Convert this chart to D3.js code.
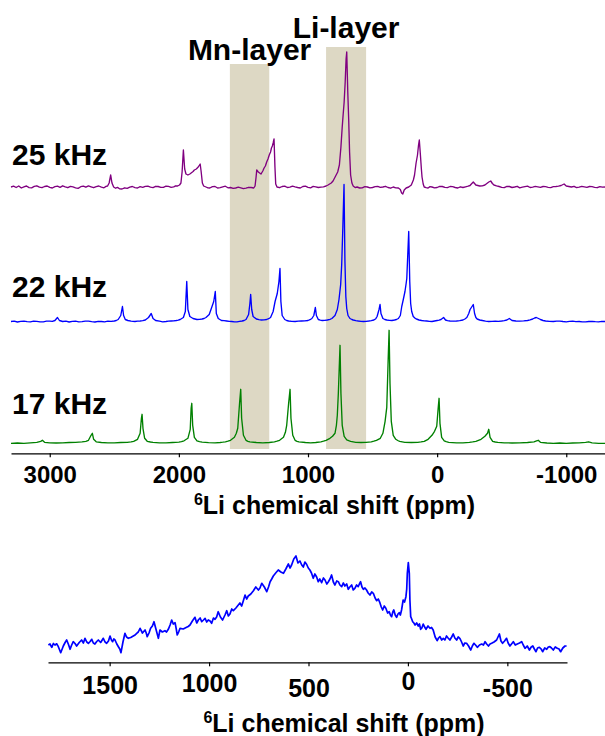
<!DOCTYPE html>
<html><head><meta charset="utf-8">
<script src="https://cdn.jsdelivr.net/npm/d3@7"></script>
<style>
html,body{margin:0;padding:0;background:#fff;}
svg{display:block;}
text{font-family:"Liberation Sans",Arial,sans-serif;font-weight:bold;fill:#000;}
</style></head>
<body>
<svg id="chart" width="605" height="736"></svg>
<script>
// ---------------- DATA ----------------
const topTicks = [3000, 2000, 1000, 0, -1000];
const bottomTicks = [1500, 1000, 500, 0, -500];
const axisTitle = "Li chemical shift (ppm)";
const axisTitleSup = "6";
const speedLabels = ["25 kHz", "22 kHz", "17 kHz"];
const bandNames = ["Mn-layer", "Li-layer"];
const bandFrom = [1605, 860];
const bandTo = [1300, 550];

// [ppm, intensity (a.u.)]
const spec25 = [[3300,0],[3280,0.8],[3260,-0.5],[3240,1],[3220,-1],[3200,0.2],[3180,1],[3160,-0.6],[3140,-0.8],[3120,0.6],[3100,1.2],[3080,-0.2],[3060,-0.7],[3040,0.5],[3020,1],[3000,-0.4],[2980,-1],[2960,0.4],[2940,0.8],[2920,-0.3],[2900,1.2],[2880,0.2],[2860,-0.7],[2840,0.6],[2820,0.1],[2800,-0.8],[2780,-1.4],[2760,0.3],[2740,0.9],[2720,-0.2],[2700,1.1],[2680,0.2],[2660,-0.7],[2640,0.4],[2620,1],[2600,-0.2],[2580,-0.8],[2564,0.6],[2552,1],[2540,4],[2528,12],[2518,4],[2505,0],[2490,-1.2],[2475,-0.4],[2460,-1.8],[2440,-2],[2420,-0.8],[2400,-1.4],[2380,-0.2],[2360,0.5],[2340,-0.6],[2320,-1],[2300,0.3],[2280,-0.4],[2260,0.6],[2240,0.8],[2220,-0.2],[2200,-0.6],[2180,0.7],[2160,0.5],[2140,-0.4],[2120,-0.3],[2100,0.9],[2080,0.6],[2060,-0.3],[2040,0.2],[2025,1.2],[2010,1],[1995,2],[1984,4],[1975,15],[1965,37],[1955,18],[1945,13],[1930,12],[1915,13],[1905,14],[1890,15.5],[1880,17],[1865,18],[1850,20],[1835,23],[1828,16],[1818,4],[1808,1],[1790,0],[1775,-0.8],[1760,-1],[1740,0.3],[1720,0.5],[1700,-1],[1680,-0.6],[1660,0.2],[1640,0.8],[1620,-0.8],[1600,-0.5],[1580,-1.4],[1560,-1],[1540,-0.2],[1520,-0.8],[1500,-1.6],[1480,-1.2],[1460,-0.3],[1440,-0.5],[1420,-1],[1410,1],[1402,10],[1397,17],[1385,15],[1364,13],[1350,16],[1340,19],[1330,21],[1320,25],[1310,28],[1300,32],[1290,35],[1283,39],[1276,41],[1270,44],[1263,48],[1256,20],[1250,3],[1240,0],[1220,-0.7],[1200,0.5],[1180,0.9],[1160,-0.5],[1140,-0.2],[1120,0.8],[1100,0.1],[1080,-0.5],[1060,-1],[1040,0.5],[1020,0.9],[1000,-0.3],[980,-0.8],[960,0.6],[940,0.2],[920,-0.5],[900,-0.1],[880,0.2],[860,1],[845,2],[820,4],[806,6],[790,10],[770,15],[757,22],[745,40],[735,60],[728,72],[720,85],[712,105],[705,128],[700,135],[692,95],[685,68],[678,35],[670,12],[660,4],[650,1],[635,-0.6],[620,0],[600,-1],[580,-0.8],[560,0.4],[540,0],[520,-0.9],[500,-0.5],[480,0.3],[460,0.6],[440,-0.4],[420,0],[400,0.7],[380,-0.5],[360,-1.2],[340,0],[320,-0.8],[300,-1],[285,-2.5],[275,-6],[266,-7],[255,-3],[240,-1],[220,0],[200,2],[184,7],[175,12],[163,24],[152,32],[144,42],[138,47],[130,33],[122,18],[117,10],[108,3],[100,0],[85,-0.6],[70,-1],[55,0.4],[40,0],[20,-0.9],[0,-0.5],[-20,0.6],[-40,0.5],[-60,-0.4],[-80,-0.6],[-100,0.5],[-120,0.3],[-140,-0.5],[-160,-1],[-180,0.2],[-200,-0.5],[-220,0.2],[-240,0.8],[-255,1.5],[-265,3],[-280,5],[-290,3.5],[-300,2],[-315,1.5],[-330,1],[-350,1.2],[-370,2],[-385,3.5],[-400,5],[-415,6],[-428,3.5],[-440,2],[-460,1.2],[-480,0.5],[-500,-0.3],[-520,-0.6],[-540,0.6],[-560,0.5],[-580,-0.5],[-600,0],[-620,0.7],[-640,-0.8],[-660,-0.2],[-680,0.4],[-700,0.9],[-720,-0.5],[-740,-0.1],[-760,0.6],[-780,0.2],[-800,-0.3],[-820,0.5],[-840,0.3],[-860,-0.3],[-880,-0.6],[-900,0.4],[-920,0.5],[-940,0.8],[-960,1.5],[-983,3],[-1000,1],[-1020,0.5],[-1040,0],[-1060,0.7],[-1080,-0.6],[-1100,-0.2],[-1120,0.6],[-1140,0.1],[-1160,-0.4],[-1180,0.5],[-1200,0.3],[-1220,-0.3],[-1240,-0.7],[-1260,0.4],[-1280,-0.2],[-1300,0]];

const spec22 = [[3300,0],[3275,0.3],[3250,-0.5],[3225,0.1],[3200,0.3],[3175,-0.2],[3150,-0.4],[3125,0.3],[3100,0.2],[3075,-0.4],[3050,-0.3],[3025,0.3],[3000,0.4],[2980,0.2],[2960,1],[2940,4],[2925,1],[2900,0],[2875,0.3],[2850,-0.5],[2825,0.1],[2800,0.3],[2775,-0.4],[2750,-0.2],[2725,0.3],[2700,0.4],[2675,-0.2],[2650,-0.5],[2625,0.2],[2600,0],[2575,-0.3],[2550,0.3],[2525,0.2],[2500,0.5],[2485,1],[2470,2],[2450,6],[2437,15],[2428,6],[2415,2],[2395,1],[2370,0.3],[2340,0],[2320,0.3],[2300,0.5],[2280,0.8],[2260,1.5],[2235,4],[2214,8],[2200,3],[2180,1],[2150,0.3],[2125,-0.3],[2100,0],[2080,0.3],[2060,0.5],[2040,0.6],[2020,1],[2005,1.4],[1990,2],[1965,4],[1950,10],[1939,40],[1930,12],[1915,5],[1890,3],[1860,2],[1840,2.2],[1820,2.5],[1805,3],[1790,4],[1765,7],[1746,14],[1730,20],[1718,30],[1710,8],[1695,3],[1670,1],[1650,0.8],[1630,0.5],[1610,0.2],[1590,0],[1570,-0.3],[1550,-0.4],[1530,0.1],[1510,0.5],[1495,1],[1480,2],[1460,7],[1450,18],[1444,27],[1436,12],[1425,5],[1400,2.5],[1380,1.8],[1360,1.5],[1340,1.6],[1320,2],[1305,2.8],[1290,4],[1270,10],[1255,20],[1238,28],[1225,40],[1217,53],[1210,20],[1200,6],[1180,2],[1165,1],[1150,0.5],[1125,0.1],[1100,0],[1075,0.3],[1050,0.5],[1025,0.7],[1000,1],[985,1.8],[970,3],[955,6],[943,14],[935,6],[920,2],[905,1.4],[890,1],[870,1.2],[850,1.5],[830,2.2],[815,3],[791,6],[773,12],[760,22],[747,37],[739,57],[730,95],[721,137],[714,60],[707,25],[700,13],[690,6],[675,3],[660,2],[650,1.5],[630,0.9],[610,0.5],[590,0.2],[570,0],[550,0.2],[530,0.5],[510,0.9],[490,1.5],[475,2.8],[465,5],[450,12],[442,17],[435,8],[420,3],[405,2],[390,1.5],[370,1.2],[350,1],[330,1.5],[315,2],[300,3],[285,6],[274,15],[262,22],[249,30],[240,38],[235,43],[228,65],[220,90],[212,40],[205,18],[197,10],[185,5],[170,3.2],[160,2.5],[140,1.5],[120,1],[100,0.7],[80,0.5],[60,0.2],[40,0],[20,0.5],[0,1],[-15,1.4],[-30,2],[-50,4],[-65,1.5],[-80,0.8],[-100,0.5],[-125,0.3],[-150,0.5],[-175,0.9],[-200,1.5],[-215,2.5],[-230,4],[-245,8],[-255,12],[-270,15],[-280,17],[-290,8],[-300,4],[-310,2.5],[-330,1.5],[-350,1],[-375,0.4],[-400,0],[-425,0.2],[-450,0.3],[-475,0.2],[-500,0.5],[-520,0.9],[-540,1.5],[-559,3],[-580,1],[-610,0.5],[-640,0.3],[-670,0.6],[-700,1],[-720,1.6],[-740,2.5],[-755,3.5],[-768,4],[-785,3],[-800,2],[-820,1],[-840,0.5],[-870,0.1],[-900,0],[-925,0.3],[-950,0.4],[-975,0],[-1000,-0.3],[-1025,0.1],[-1050,0.3],[-1075,-0.1],[-1100,0],[-1125,-0.3],[-1150,-0.4],[-1175,0],[-1200,0.2],[-1225,-0.1],[-1250,-0.3],[-1275,0.1],[-1300,0]];

const spec17 = [[3300,0],[3250,0.3],[3200,0],[3150,0.5],[3100,1],[3070,2],[3057,3],[3040,1],[3000,0.5],[2950,0.3],[2900,0.5],[2850,0.8],[2800,1],[2750,1.5],[2720,2],[2700,3],[2680,8],[2670,10],[2660,4],[2640,1.5],[2600,0.8],[2550,0.5],[2500,0.5],[2450,0.8],[2400,1],[2370,1.4],[2350,2],[2320,4],[2300,10],[2290,25],[2285,29],[2278,15],[2265,5],[2245,2],[2220,1.3],[2200,1],[2150,0.5],[2100,0.5],[2050,0.8],[2000,1.2],[1980,1.7],[1960,2.5],[1930,5],[1912,14],[1905,35],[1900,40],[1893,18],[1880,6],[1860,2.5],[1840,1.7],[1820,1.2],[1770,0.6],[1720,0.5],[1680,0.8],[1660,1.1],[1640,1.5],[1620,2.1],[1600,3],[1570,6],[1555,10],[1544,15],[1530,40],[1521,54],[1514,25],[1500,8],[1480,3],[1465,2],[1450,1.5],[1400,0.8],[1350,0.5],[1300,0.8],[1260,1.5],[1240,2.1],[1220,3],[1190,6],[1175,11],[1165,18],[1150,40],[1139,54],[1132,25],[1118,8],[1100,3],[1085,2],[1070,1.5],[1020,0.8],[980,0.5],[940,0.8],[900,1.5],[880,2.1],[860,3],[830,5],[810,7],[791,10],[780,18],[773,28],[765,50],[752,98],[745,50],[735,18],[720,7],[700,3.5],[685,2.6],[670,2],[630,1],[590,0.8],[550,1],[510,1.5],[490,2.1],[470,3],[440,5],[420,10],[403,22],[390,36],[380,80],[372,113],[365,60],[355,22],[340,8],[320,4],[305,2.8],[290,2],[250,1],[200,0.8],[150,1],[125,1.4],[100,2],[70,4],[40,8],[20,12],[3,17],[-8,35],[-15,45],[-22,20],[-35,6],[-55,2.5],[-70,1.6],[-90,1],[-150,0.5],[-200,0.5],[-250,1],[-275,1.4],[-300,2],[-340,4],[-370,7],[-390,10],[-400,14],[-410,6],[-430,2],[-450,1.3],[-470,1],[-520,0.5],[-580,0.3],[-640,0.5],[-700,0.8],[-750,1.5],[-770,2.5],[-783,3],[-800,1],[-850,0.3],[-900,0],[-950,0.3],[-1000,0],[-1050,0.3],[-1100,0.5],[-1150,1],[-1173,1.5],[-1200,0.5],[-1250,0],[-1300,0]];

const specBottom = [[1808,0],[1800,1],[1791,-2.3],[1783,1.5],[1775,0],[1766,1.2],[1758,-1.7],[1746,-7.7],[1733,-1],[1724,2.5],[1716,5],[1707,0.5],[1699,-4.3],[1691,0],[1683,3.3],[1674,1.5],[1666,-1],[1653,2.5],[1641,5],[1632,2],[1624,6.7],[1615,3],[1607,1.7],[1598,3.5],[1590,5.7],[1582,2],[1574,1],[1565,3.5],[1557,5],[1545,2.5],[1532,6.7],[1523,3],[1515,1.7],[1506,4],[1498,9],[1491,5],[1485,3.3],[1479,6],[1473,5],[1464,1],[1456,-1.7],[1449,-4],[1443,-7.7],[1433,3],[1423,11.7],[1415,8],[1406,6.7],[1394,7.5],[1381,9],[1372,10],[1364,11.7],[1356,13],[1347,16.7],[1335,12],[1322,15],[1316,12],[1311,8.3],[1302,12],[1294,16.7],[1285,19],[1277,23.3],[1266,15],[1255,6.7],[1247,15],[1235,13],[1222,14.3],[1214,13],[1205,15.7],[1196,20],[1188,25],[1180,21],[1171,22.3],[1165,16],[1160,10],[1153,13],[1146,16.7],[1130,16],[1113,17.7],[1105,18.5],[1096,20],[1084,24],[1071,27.7],[1062,22],[1054,25],[1045,27],[1037,23.3],[1028,25],[1020,26.7],[1012,23],[1004,25],[995,24],[987,21.7],[978,27],[970,25.7],[962,28],[954,33.3],[943,28],[932,25],[920,30],[911,34.3],[903,29],[895,31],[886,36],[878,34.3],[865,37],[853,40],[845,42],[836,39],[828,44],[819,50],[811,46],[803,49],[790,51],[777,54.3],[765,58],[752,55],[744,57],[735,61.7],[722,58],[710,53.3],[701,58],[693,63.3],[685,66],[677,69],[665,72],[652,75],[639,73],[626,71.7],[614,76],[601,81],[593,77],[585,80],[574,86],[563,89],[553,82],[543,84],[534,80],[526,78],[518,83],[509,80.5],[501,77],[493,75],[485,72],[476,66.7],[468,71],[459,68],[451,63.3],[443,66],[434,62.3],[425,67],[417,65],[408,61],[400,63.3],[392,66],[384,70],[375,63],[367,60],[358,64],[350,63.3],[342,60],[333,58.3],[325,62],[317,59],[308,61],[300,55.7],[292,58],[283,60],[275,55],[267,56.7],[258,60],[250,58.3],[244,61],[238,63.3],[231,58],[224,55.7],[216,57],[208,55],[200,52],[191,50],[182,53],[174,51.7],[165,47],[157,44.3],[149,46],[141,42.3],[134,38],[127,35],[119,39],[111,36.7],[102,32],[94,33.3],[88,30],[82,28.3],[76,33],[71,35],[64,30],[57,27.7],[50,31],[44,32.3],[38,30],[32,35],[28,40],[24,45],[17,43],[10,48.3],[6,56],[3,71.7],[-2,82.3],[-7,71.7],[-10,45],[-14,28.3],[-19,26],[-24,23.3],[-30,22],[-36,20],[-44,22],[-52,19],[-58,21],[-64,15.7],[-70,17],[-77,21],[-84,18],[-91,15.7],[-101,19],[-111,16.7],[-119,17.5],[-127,15],[-137,8],[-147,4.3],[-154,7],[-161,8.3],[-170,5],[-178,6.7],[-186,5],[-194,9],[-202,7],[-211,5],[-220,8],[-228,11],[-236,7],[-245,5],[-253,8],[-261,6.7],[-270,3],[-278,-1],[-286,2],[-295,1.7],[-305,-1],[-316,-5],[-324,-1],[-332,1.7],[-340,0],[-349,-2.3],[-360,0],[-371,1],[-380,0],[-388,3.3],[-396,1],[-405,-1],[-413,1],[-421,1.7],[-433,3],[-446,5],[-453,8],[-460,11],[-468,4],[-476,1.7],[-486,4],[-496,6.7],[-504,2],[-513,-1],[-521,1],[-530,3.3],[-540,0],[-550,1],[-561,2],[-572,3.3],[-580,0],[-589,-3.3],[-600,-1],[-611,-5],[-620,-2],[-628,-1],[-636,-4],[-644,-6.7],[-652,-3],[-661,-2.3],[-670,-4],[-678,-6.7],[-688,-3],[-698,-4.3],[-706,-2],[-714,-1.7],[-722,-3],[-731,-5],[-741,-2],[-751,-3.3],[-760,-4],[-768,-6.7],[-779,-3],[-790,-1],[-798,-1]];

// ---------------- LAYOUT ----------------
const svg = d3.select("#chart");
const font = '"Liberation Sans", Arial, sans-serif';

const xTop = d3.scaleLinear().domain([3300, -1300]).range([11, 605]);
const topAxisY = 453.3;
const baselines = [187, 321.5, 443.3];
const labelBaselines = [165, 296.7, 413.5];
const bandTops = [64, 47];
const bandBottom = 449;
const colors = ["#800080", "#0000ff", "#008000"];
const spectra = [spec25, spec22, spec17];

// shaded bands
bandNames.forEach((name, i) => {
  const x0 = xTop(bandFrom[i]), x1 = xTop(bandTo[i]);
  svg.append("rect")
    .attr("x", x0).attr("y", bandTops[i])
    .attr("width", x1 - x0).attr("height", bandBottom - bandTops[i])
    .attr("fill", "#ddd8c4");
});
// band labels
const bandLabelY = [59.5, 37.5];
bandNames.forEach((name, i) => {
  svg.append("text")
    .attr("x", (xTop(bandFrom[i]) + xTop(bandTo[i])) / 2)
    .attr("y", bandLabelY[i])
    .attr("text-anchor", "middle")
    .style("font-size", "30px")
    .text(name);
});

// spectra
spectra.forEach((s, i) => {
  const y = d3.scaleLinear().domain([0, 100]).range([baselines[i], baselines[i] - 100]);
  const line = d3.line().x(d => xTop(d[0])).y(d => y(d[1]));
  svg.append("path").datum(s)
    .attr("d", line)
    .attr("fill", "none")
    .attr("stroke", colors[i])
    .attr("stroke-width", 1.35)
    .attr("stroke-linejoin", "round");
  svg.append("text")
    .attr("x", 12).attr("y", labelBaselines[i])
    .style("font-size", "30px")
    .text(speedLabels[i]);
});

// top axis
const axTop = svg.append("g").attr("transform", `translate(0,${topAxisY})`)
  .call(d3.axisBottom(xTop).tickValues(topTicks).tickSize(4).tickSizeOuter(0).tickFormat(d => String(d)));
axTop.select(".domain").attr("stroke", "#000").attr("stroke-width", 1.3);
axTop.selectAll(".tick line").attr("stroke", "#000").attr("stroke-width", 1.2);
axTop.selectAll(".tick text")
  .attr("y", 30).attr("dy", null)
  .style("font-family", font).style("font-weight", "bold").style("font-size", "24px").attr("fill", "#000");

function axisTitleText(cx, by) {
  const t = svg.append("text").attr("x", cx).attr("y", by).attr("text-anchor", "middle").style("font-size", "25px");
  t.append("tspan").attr("dy", -9).style("font-size", "16px").text(axisTitleSup);
  t.append("tspan").attr("dy", 9).text(axisTitle);
}
axisTitleText(334.5, 514);

// bottom spectrum
const xBot = d3.scaleLinear().domain([1810, -800]).range([48, 567]);
const botAxisY = 662.3;
const yBot = d3.scaleLinear().domain([0, 100]).range([645, 545]);
svg.append("path").datum(specBottom)
  .attr("d", d3.line().x(d => xBot(d[0])).y(d => yBot(d[1])))
  .attr("fill", "none").attr("stroke", "#0000ff").attr("stroke-width", 1.7)
  .attr("stroke-linejoin", "round");

const botLabelOffsets = {"1500": 31.7, "1000": 29.4, "500": 34.4, "0": 27.7, "-500": 34.4};
const axBot = svg.append("g").attr("transform", `translate(0,${botAxisY})`)
  .call(d3.axisBottom(xBot).tickValues(bottomTicks).tickSize(4).tickSizeOuter(0).tickFormat(d => String(d)));
axBot.select(".domain").attr("stroke", "#000").attr("stroke-width", 1.3);
axBot.selectAll(".tick line").attr("stroke", "#000").attr("stroke-width", 1.2);
axBot.selectAll(".tick text")
  .attr("y", d => botLabelOffsets[String(d)]).attr("dy", null)
  .style("font-family", font).style("font-weight", "bold").style("font-size", "25px").attr("fill", "#000");

axisTitleText(344, 731.7);
</script>
</body></html>
